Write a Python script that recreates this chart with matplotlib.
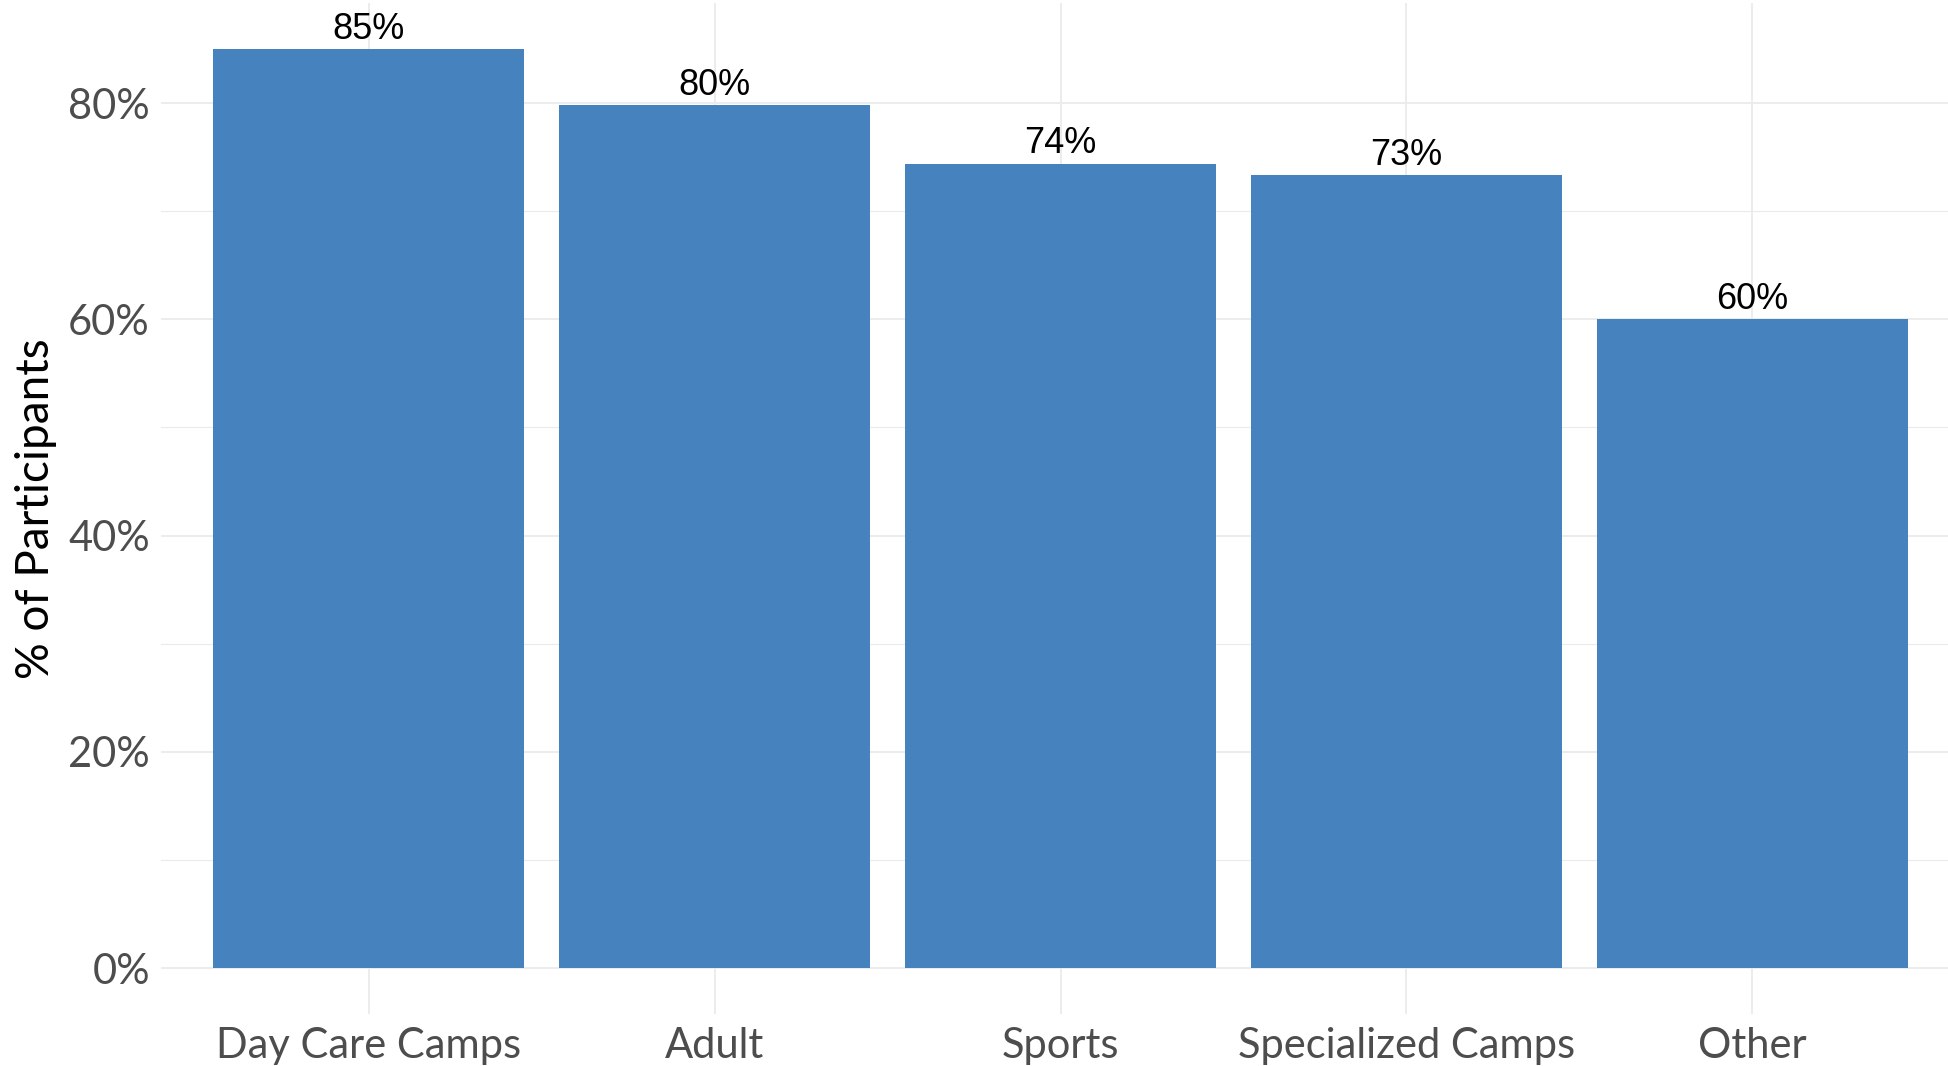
import matplotlib
matplotlib.use("Agg")
import matplotlib.pyplot as plt
from matplotlib.ticker import FixedLocator, FuncFormatter

categories = ["Day Care Camps", "Adult", "Sports", "Specialized Camps", "Other"]
values = [85.0, 79.8, 74.4, 73.3, 60.0]
y_ticks = [0, 20, 40, 60, 80]
y_minor = [10, 30, 50, 70]

W, H = 1949, 1066
fig = plt.figure(figsize=(W / 100, H / 100), dpi=100)
left_px, right_px, top_px, bottom_px = 161, 1960, 3, 1014
ax = fig.add_axes([left_px / W, 1 - bottom_px / H, (right_px - left_px) / W, (bottom_px - top_px) / H])

x = list(range(1, len(categories) + 1))
ax.bar(x, values, width=0.9, color="#4682BE", zorder=3)

ax.set_xlim(0.4, 5.6)
ymax = max(values)
ax.set_ylim(-0.05 * ymax, ymax * 1.05)

grid_col = "#EBEBEB"
ax.yaxis.set_major_locator(FixedLocator(y_ticks))
ax.yaxis.set_minor_locator(FixedLocator(y_minor))
ax.xaxis.set_major_locator(FixedLocator(x))
ax.grid(True, which="major", color=grid_col, linewidth=1.3, zorder=0)
ax.grid(True, which="minor", axis="y", color=grid_col, linewidth=0.8, zorder=0)
ax.set_axisbelow(True)
for s in ax.spines.values():
    s.set_visible(False)

ax.yaxis.set_major_formatter(FuncFormatter(lambda v, p: f"{int(v)}%"))
ax.set_xticklabels(categories)
ax.tick_params(axis="both", which="both", length=0)
ax.tick_params(axis="x", pad=9.5, labelsize=30, labelcolor="#4D4D4D")
ax.tick_params(axis="y", pad=8, labelsize=30, labelcolor="#4D4D4D")
for lab in ax.get_xticklabels() + ax.get_yticklabels():
    lab.set_fontfamily("Lato")

ax.set_ylabel("% of Participants", fontsize=33, fontfamily="Lato", color="black", labelpad=8)

for xi, v in zip(x, values):
    ax.annotate(f"{round(v):d}%", xy=(xi, v), xytext=(0, 1.5), textcoords="offset points",
                ha="center", va="bottom", fontsize=26, fontfamily="Liberation Sans", color="black")

fig.savefig("out.png", dpi=100)
